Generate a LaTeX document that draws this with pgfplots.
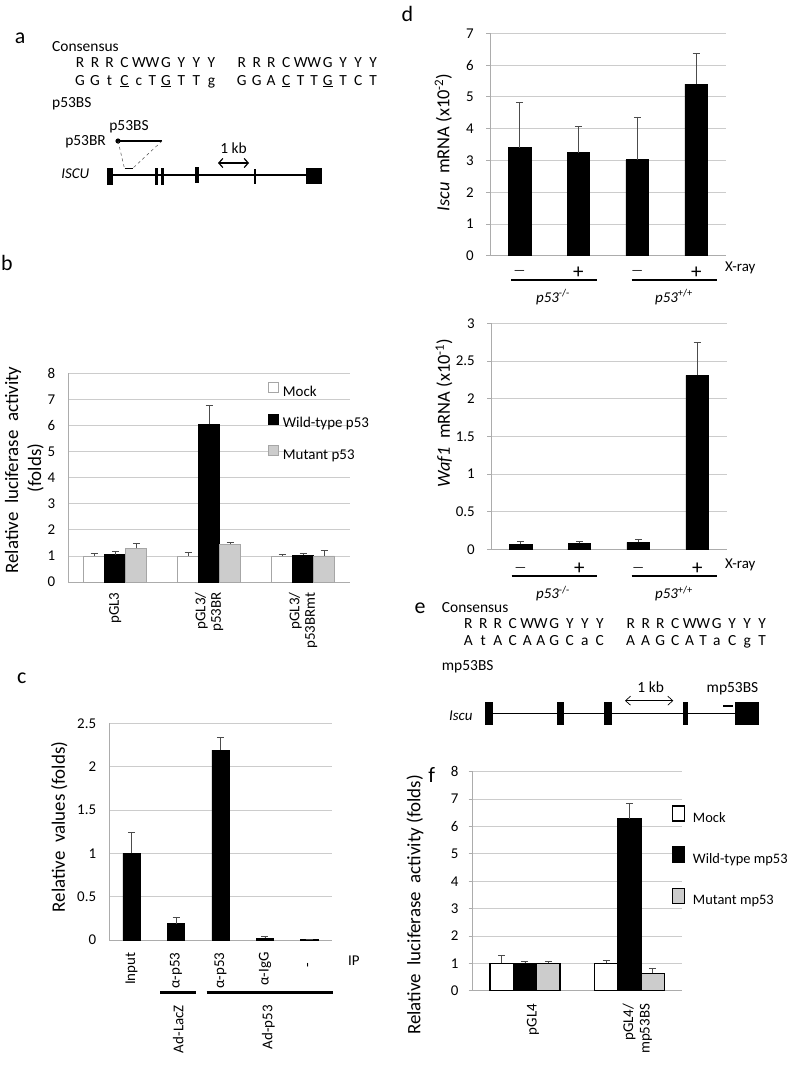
\documentclass[border=0pt]{standalone}
\usepackage{fontspec}
\setmainfont{Carlito}
\usepackage{pgfplots}
\pgfplotsset{compat=1.18}
\usepackage{pgfplotstable}
\usetikzlibrary{arrows.meta}
\newcommand\fs[2]{\fontsize{#1}{#2}\selectfont}

\pgfplotstableread[row sep=\\]{
x m me w we u ue \\
0 1.00 0.10 1.05 0.11 1.29 0.19 \\
1 1.00 0.14 6.05 0.72 1.44 0.08 \\
2 1.00 0.06 1.03 0.05 1.00 0.20 \\
}\tabB
\pgfplotstableread[row sep=\\]{
x y e \\
0 1.00 0.24 \\
1 0.19 0.075 \\
2 2.19 0.15 \\
3 0.02 0.02 \\
4 0.004 0.005 \\
}\tabC
\pgfplotstableread[row sep=\\]{
x y e \\
0 3.40 1.43 \\
1 3.24 0.82 \\
2 3.02 1.35 \\
3 5.40 0.97 \\
}\tabDa
\pgfplotstableread[row sep=\\]{
x y e \\
0 0.07 0.035 \\
1 0.08 0.025 \\
2 0.093 0.04 \\
3 2.31 0.44 \\
}\tabDb
\pgfplotstableread[row sep=\\]{
x m me w we u ue \\
0 1.00 0.30 1.00 0.08 1.00 0.06 \\
1 1.00 0.12 6.29 0.56 0.63 0.19 \\
}\tabF

\pgfplotsset{
  exstyle/.style={
    scale only axis,
    axis lines*=left,
    axis line style={gray!65, line width=0.8bp, -},
    ymajorgrids, grid style={gray!40, line width=0.8bp},
    xtick style={draw=none}, ytick style={draw=none},
    tick label style={font=\fs{15}{17}, black},
    /pgf/number format/assume math mode=true,
    yticklabel style={anchor=east, inner sep=0pt},
    ybar,
    error bars/y dir=plus, error bars/y explicit,
    error bars/error bar style={gray!60!black, line width=0.7bp},
    error bars/error mark options={rotate=90, mark size=3.5bp, gray!60!black, line width=0.7bp},
  },
  sqleg/.style={legend image code/.code={\draw[##1] (0bp,0bp) rectangle (10bp,10bp);}},
  bigleg/.style={legend image code/.code={\draw[##1] (0bp,-2.5bp) rectangle (12bp,12.5bp);}},
  pmlab/.style={xticklabel style={anchor=center, inner sep=0pt, yshift=#1, font=\fs{15}{17}}},
}

\newcommand\seqrow[3]{%
  \foreach \l [count=\i from 0] in {#3} {%
    \pgfmathsetmacro\xx{#1+{0,15,29.5,44.5,59,72.5,86,101.5,116.5,131.5}[\i]}%
    \node[anchor=base, inner sep=0pt, font=\fs{15.5}{18}] at (\xx, #2) {\l};
  }}
\newcommand\mns{{\fs{13}{15}—}}
\newcommand\pls{{\fs{21}{22}+}}

\begin{document}
\begin{tikzpicture}
\path[use as bounding box] (0,0) rectangle (787bp,-1066bp);

% ---------------- panel b
\begin{axis}[exstyle, at={(68.3bp,-582bp)}, anchor=south west,
  width=281.7bp, height=208.7bp,
  yticklabel style={xshift=-13bp},
  xmin=-0.5, xmax=2.5, ymin=0, ymax=8, ytick={0,1,...,8},
  xtick={0,1,2}, xticklabels={pGL3,{pGL3/\\p53BR},{pGL3/\\p53BRmt}},
  xticklabel style={rotate=90, anchor=east, align=right, inner sep=0pt, xshift=-6bp, font=\fs{15}{15.5}},
  bar width=0.224,
  legend style={draw=none, fill=none, at={(0.698,0.968)}, anchor=north west,
    font=\fs{15}{17}, row sep=14bp, nodes={inner sep=0pt, text height=11bp, text depth=3bp},
    /tikz/every odd column/.append style={column sep=4bp}},
  legend cell align=left]
\addplot[fill=white, draw=gray!70, line width=0.8bp, bar shift=-0.224, sqleg] table[x=x,y=m,y error=me]{\tabB};
\addplot[fill=black, draw=black, line width=0.8bp, bar shift=0, sqleg] table[x=x,y=w,y error=we]{\tabB};
\addplot[fill=gray!40, draw=gray!70, line width=0.8bp, bar shift=0.224, sqleg] table[x=x,y=u,y error=ue]{\tabB};
\legend{Mock, Wild-type p53, Mutant p53}
\end{axis}

% ---------------- panel c
\begin{axis}[exstyle, at={(109.3bp,-940bp)}, anchor=south west,
  width=222.4bp, height=216.7bp,
  yticklabel style={xshift=-13bp},
  xmin=-0.5, xmax=4.5, ymin=0, ymax=2.5, ytick={0,0.5,...,2.5},
  xtick={0,1,2,3,4}, xticklabels={Input,α-p53,α-p53,α-IgG,{-\rule{10bp}{0pt}}},
  xticklabel style={rotate=90, anchor=east, inner sep=0pt, xshift=-8bp},
  bar width=0.39]
\addplot[fill=black, draw=black, line width=0.6bp] table[x=x,y=y,y error=e]{\tabC};
\end{axis}

% ---------------- panel d (Iscu)
\begin{axis}[exstyle, at={(490bp,-255.7bp)}, anchor=south west,
  width=235.7bp, height=222.4bp,
  xmin=-0.5, xmax=3.5, ymin=0, ymax=7, ytick={0,1,...,7},
  ytick style={draw=gray!65, line width=0.8bp}, tick align=outside, major tick length=4bp,
  yticklabel style={xshift=-12bp},
  xtick={0,1,2,3}, xticklabels={\mns,\pls,\mns,\pls},
  pmlab=-12.6bp,
  bar width=0.385]
\addplot[fill=black, draw=black, line width=0.6bp] table[x=x,y=y,y error=e]{\tabDa};
\end{axis}

% ---------------- panel d (Waf1)
\begin{axis}[exstyle, at={(491bp,-549.3bp)}, anchor=south west,
  width=235.7bp, height=226bp,
  xmin=-0.5, xmax=3.5, ymin=0, ymax=3, ytick={0,0.5,...,3},
  ytick style={draw=gray!65, line width=0.8bp}, tick align=outside, major tick length=4bp,
  yticklabel style={xshift=-12bp},
  xtick={0,1,2,3}, xticklabels={\mns,\pls,\mns,\pls},
  pmlab=-15.7bp,
  bar width=0.385]
\addplot[fill=black, draw=black, line width=0.6bp] table[x=x,y=y,y error=e]{\tabDb};
\end{axis}

% ---------------- panel f
\begin{axis}[exstyle, at={(472.7bp,-990.7bp)}, anchor=south west,
  width=209bp, height=219bp,
  xmin=-0.5, xmax=1.5, ymin=0, ymax=8, ytick={0,1,...,8},
  ytick style={draw=gray!65, line width=0.8bp}, tick align=outside, major tick length=4bp,
  yticklabel style={xshift=-10bp},
  xtick={0,1}, xticklabels={pGL4,{pGL4/\\mp53BS}},
  xticklabel style={rotate=90, anchor=east, align=right, inner sep=0pt, xshift=-9bp, yshift=-8bp, font=\fs{15}{16.5}},
  bar width=0.223,
  legend style={draw=none, fill=none, at={(0.939,0.857)}, anchor=north west,
    font=\fs{14.5}{17}, row sep=21bp, nodes={inner sep=0pt, text height=11bp, text depth=3bp},
    /tikz/every odd column/.append style={column sep=7.5bp}},
  legend cell align=left]
\addplot[fill=white, draw=black, line width=1.3bp, bar shift=-0.223, bigleg] table[x=x,y=m,y error=me]{\tabF};
\addplot[fill=black, draw=black, line width=1.3bp, bar shift=0, bigleg] table[x=x,y=w,y error=we]{\tabF};
\addplot[fill=gray!40, draw=black, line width=1.3bp, bar shift=0.223, bigleg] table[x=x,y=u,y error=ue]{\tabF};
\legend{Mock, Wild-type mp53, Mutant mp53}
\end{axis}

\begin{scope}[x=1bp, y=-1bp]
% panel letters
\node[anchor=base, inner sep=0pt, font=\fs{22}{24}] at (20,43) {a};
\node[anchor=base, inner sep=0pt, font=\fs{22}{24}] at (7,270.5) {b};
\node[anchor=base, inner sep=0pt, font=\fs{22}{24}] at (21.7,683) {c};
\node[anchor=base, inner sep=0pt, font=\fs{22}{24}] at (407.3,21) {d};
\node[anchor=base, inner sep=0pt, font=\fs{22}{24}] at (420,613) {e};
\node[anchor=base, inner sep=0pt, font=\fs{22}{24}] at (431.7,782.5) {f};

% ---- panel a schematic
\node[anchor=base west, inner sep=0pt, font=\fs{15.5}{18}] at (52,51) {Consensus};
\seqrow{80}{67}{R,R,R,C,W,W,G,Y,Y,Y}
\seqrow{241.7}{67}{R,R,R,C,W,W,G,Y,Y,Y}
\seqrow{80}{85}{G,G,t,\underline{C},c,T,\underline{G},T,T,g}
\seqrow{241.7}{85}{G,G,A,\underline{C},T,T,\underline{G},T,C,T}
\node[anchor=base west, inner sep=0pt, font=\fs{15.5}{18}] at (52,107) {p53BS};
\node[anchor=base, inner sep=0pt, font=\fs{15.5}{18}] at (129,130) {p53BS};
\node[anchor=base east, inner sep=0pt, font=\fs{15.5}{18}] at (106,145) {p53BR};
\draw[line width=2bp] (118,141) -- (162,141);
\fill (118,141) circle (2.6);
\draw[gray!60!black, dashed, line width=0.5bp] (118,141) -- (124.5,168.5);
\draw[gray!60!black, dashed, line width=0.5bp] (162,141) -- (132.5,168.5);
\draw[line width=1.5bp] (124.5,168.7) -- (132.5,168.7);
\node[anchor=base east, inner sep=0pt, font=\fs{15}{18}\itshape] at (89.5,178) {ISCU};
\draw[line width=1.3bp] (110,175) -- (322,175);
\fill (107,168) rectangle (113,184.5);
\fill (155,168.3) rectangle (158.3,185);
\fill (160.7,168.3) rectangle (164,185);
\fill (195,166.7) rectangle (199,182.7);
\fill (254,169) rectangle (256,184);
\fill (306,168.3) rectangle (322.3,184.3);
\draw[{Straight Barb[length=4bp,width=9bp]}-{Straight Barb[length=4bp,width=9bp]}, line width=1.2bp] (218,163) -- (249,163);
\node[anchor=base, inner sep=0pt, font=\fs{15.5}{18}] at (233.5,153) {1 kb};

% ---- panel b y label
\node[rotate=90, font=\fs{19}{21}] at (13,470) {Relative\ \ luciferase\ \ activity};
\node[rotate=90, font=\fs{19}{21}] at (35.5,468) {(folds)};

% ---- panel c annotations
\node[rotate=90, font=\fs{19}{21}] at (59.3,827) {Relative\ \ values (folds)};
\node[anchor=west, inner sep=0pt, font=\fs{15}{17}] at (348,960.7) {IP};
\draw[line width=2.5bp] (160,992.7) -- (195.7,992.7);
\draw[line width=2.5bp] (206.7,992.7) -- (333.3,992.7);
\node[rotate=90, anchor=east, inner sep=0pt, font=\fs{15}{17}] at (178.3,1005) {Ad-LacZ};
\node[rotate=90, anchor=east, inner sep=0pt, font=\fs{15}{17}] at (268.3,1005) {Ad-p53};

% ---- panel d annotations
\node[rotate=90, font=\fs{18.5}{21}] at (443.3,142.5) {\textit{Iscu}\ \ mRNA (x10\textsuperscript{-2})};
\node[anchor=west, inner sep=0pt, font=\fs{15}{17}] at (725,268.3) {X-ray};
\draw[line width=2.5bp] (511,280) -- (596.7,280);
\draw[line width=2.5bp] (631.7,280) -- (716.7,280);
\node[font=\fs{15}{17}] at (553,297) {\textit{p53}\textsuperscript{-/-}};
\node[font=\fs{15}{17}] at (674,297) {\textit{p53}\textsuperscript{+/+}};

\node[rotate=90, font=\fs{18.5}{21}] at (444,413) {\textit{Waf1}\ \ mRNA (x10\textsuperscript{-1})};
\node[anchor=west, inner sep=0pt, font=\fs{15}{17}] at (725,565) {X-ray};
\draw[line width=2.5bp] (511.7,576) -- (596.7,576);
\draw[line width=2.5bp] (631.7,576) -- (716.7,576);
\node[font=\fs{15}{17}] at (553,593.3) {\textit{p53}\textsuperscript{-/-}};
\node[font=\fs{15}{17}] at (674,593.3) {\textit{p53}\textsuperscript{+/+}};

% ---- panel e schematic
\node[anchor=base west, inner sep=0pt, font=\fs{15.5}{18}] at (441.7,612.3) {Consensus};
\seqrow{468.3}{628.3}{R,R,R,C,W,W,G,Y,Y,Y}
\seqrow{630.7}{628.3}{R,R,R,C,W,W,G,Y,Y,Y}
\seqrow{468.3}{645.7}{A,t,A,C,A,A,G,C,a,C}
\seqrow{630.7}{645.7}{A,A,G,C,A,T,a,C,g,T}
\node[anchor=base west, inner sep=0pt, font=\fs{15.5}{18}] at (441.7,670) {mp53BS};
\node[anchor=base east, inner sep=0pt, font=\fs{15}{18}\itshape] at (472.7,720) {Iscu};
\draw[line width=1.3bp] (490,713.3) -- (738,713.3);
\fill (485,701.7) rectangle (493.3,725);
\fill (556.7,701.7) rectangle (564.3,725);
\fill (604,701.7) rectangle (612.3,725);
\fill (682.7,701.7) rectangle (688.3,725);
\fill (735,701.7) rectangle (759.3,725);
\draw[line width=1.5bp] (723.3,706) -- (733.3,706);
\node[anchor=base, inner sep=0pt, font=\fs{15.5}{18}] at (732.5,692.3) {mp53BS};
\node[anchor=base, inner sep=0pt, font=\fs{15.5}{18}] at (650.7,692.3) {1 kb};
\draw[{Straight Barb[length=5bp,width=9bp]}-{Straight Barb[length=5bp,width=9bp]}, line width=0.7bp] (625,700.7) -- (673.3,700.7);

% ---- panel f y label
\node[rotate=90, font=\fs{19}{21}] at (415,905) {Relative\ \ luciferase\ \ activity (folds)};
\end{scope}
\end{tikzpicture}
\end{document}
